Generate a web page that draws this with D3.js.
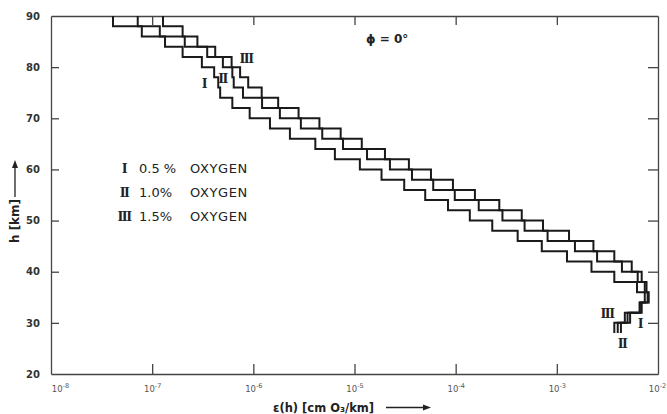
<!DOCTYPE html>
<html><head><meta charset="utf-8">
<script src="https://cdn.jsdelivr.net/npm/d3@7"></script>
<style>body{margin:0;background:#fff}</style>
</head><body><svg id="c" width="667" height="414"></svg>
<script>
// layer boundaries (km), 2-km layers from 90 down to 28
const layerBounds = [90,88,86,84,82,80,78,76,74,72,70,68,66,64,62,60,58,56,54,52,50,48,46,44,42,40,38,36,34,32,30,28];
// emission rate per layer, cm O3 / km
const epsI = [4.1e-8,7.9e-8,1.34e-7,2.0e-7,3.1e-7,4.1e-7,4.5e-7,4.7e-7,6.2e-7,9.2e-7,1.46e-6,2.3e-6,4.1e-6,6.4e-6,1.13e-5,1.85e-5,3.1e-5,5.0e-5,8.4e-5,1.38e-4,2.3e-4,4.1e-4,7.1e-4,1.26e-3,2.2e-3,3.7e-3,6.2e-3,7.4e-3,6.6e-3,5.3e-3,4.3e-3];
const epsII = [7.2e-8,1.19e-7,2.1e-7,3.5e-7,5.0e-7,6.2e-7,6.4e-7,7.9e-7,1.22e-6,1.83e-6,2.95e-6,4.8e-6,7.7e-6,1.33e-5,2.24e-5,3.7e-5,6.0e-5,9.8e-5,1.69e-4,2.9e-4,4.8e-4,8.1e-4,1.51e-3,2.5e-3,4.4e-3,6.3e-3,7.4e-3,7.9e-3,6.9e-3,5.0e-3,4.0e-3];
const epsIII = [1.28e-7,2.0e-7,2.8e-7,4.2e-7,6.1e-7,7.4e-7,8.9e-7,1.21e-6,1.76e-6,2.8e-6,4.5e-6,7.3e-6,1.18e-5,2.0e-5,3.45e-5,5.7e-5,9.4e-5,1.55e-4,2.7e-4,4.5e-4,7.3e-4,1.32e-3,2.3e-3,3.7e-3,5.5e-3,6.9e-3,7.7e-3,8.1e-3,6.6e-3,4.7e-3,3.7e-3];
const yTicks = [20,30,40,50,60,70,80,90];
const xTicks = [1e-8,1e-7,1e-6,1e-5,1e-4,1e-3,1e-2];
const curveNames = ["I","II","III"];
const legendPct = ["0.5 %","1.0%","1.5%"];
const legendWord = "OXYGEN";

const svg = d3.select("#c");
const x = d3.scaleLog().domain([1e-8,1e-2]).range([51,658]);
const y = d3.scaleLinear().domain([20,90]).range([374,16]);

const axisColor = "#444";
function styleAxis(g){
  g.select(".domain").attr("stroke",axisColor).attr("stroke-width",1.3);
  g.selectAll(".tick line").attr("stroke",axisColor).attr("stroke-width",1.3);
}
const axB = svg.append("g").attr("transform","translate(0,374)")
  .call(d3.axisBottom(x).tickValues(xTicks).tickSizeInner(-10).tickSizeOuter(0).tickPadding(9).tickFormat(()=>""));
styleAxis(axB);
axB.selectAll(".tick text").each(function(d){
  const t = d3.select(this).attr("font-family","DejaVu Sans").attr("font-size",8.5).attr("fill","#555")
    .attr("dy","1.1em");
  t.append("tspan").text("10");
  t.append("tspan").text(String(Math.round(Math.log10(d)))).attr("font-size",6.5).attr("dy",-4);
});
axB.selectAll(".tick").filter(d=>d===1e-8).select("text").attr("x",9);
axB.selectAll(".tick").filter(d=>d===1e-2).select("text").attr("x",-1);
axB.selectAll(".tick").filter(d=>d===1e-8||d===1e-2).select("line").remove();

const axT = svg.append("g").attr("transform","translate(0,16)")
  .call(d3.axisTop(x).tickValues(xTicks.slice(1,-1)).tickSizeInner(-9).tickSizeOuter(0).tickFormat(""));
styleAxis(axT);

const axL = svg.append("g").attr("transform","translate(51,0)")
  .call(d3.axisLeft(y).tickValues(yTicks).tickSizeInner(-8).tickSizeOuter(0).tickPadding(11));
styleAxis(axL);
axL.selectAll("text").attr("font-family","DejaVu Sans").attr("font-size",10).attr("font-weight","bold").attr("fill","#333");
axL.selectAll(".tick").filter(d=>d===20||d===90).select("line").remove();

const axR = svg.append("g").attr("transform","translate(658,0)")
  .call(d3.axisRight(y).tickValues(yTicks.slice(1,-1)).tickSizeInner(-10).tickSizeOuter(0).tickFormat(""));
styleAxis(axR);

// staircase curves
const line = d3.line().x(d=>x(d[0])).y(d=>y(d[1]));
[epsI,epsII,epsIII].forEach(vals=>{
  const pts = [];
  vals.forEach((v,i)=>{ pts.push([v,layerBounds[i]]); pts.push([v,layerBounds[i+1]]); });
  svg.append("path").attr("d",line(pts)).attr("fill","none")
    .attr("stroke","#1a1a1a").attr("stroke-width",2).attr("stroke-linejoin","miter");
});

// curve labels
const numFont = "Liberation Serif";
function numeral(t,cx,cy){
  svg.append("text").text(t).attr("x",cx).attr("y",cy).attr("text-anchor","middle")
    .attr("dominant-baseline","central").attr("font-family",numFont).attr("font-size",15)
    .attr("font-weight","bold").attr("letter-spacing",-1.5).attr("fill","#222");
}
numeral(curveNames[0],204,83);
numeral(curveNames[1],222.5,78);
numeral(curveNames[2],246,57.5);
numeral(curveNames[2],607,312.5);
numeral(curveNames[0],640,323);
numeral(curveNames[1],622,343);

// legend
const legY = [168,192,216];
curveNames.forEach((n,i)=>{
  numeral(n,124,legY[i]);
  svg.append("text").text(legendPct[i]).attr("x",139).attr("y",legY[i]+5)
    .attr("font-family","DejaVu Sans").attr("font-size",13).attr("fill","#222");
  svg.append("text").text(legendWord).attr("x",190).attr("y",legY[i]+5)
    .attr("font-family","DejaVu Sans").attr("font-size",13).attr("letter-spacing",0.6).attr("fill","#222");
});

// phi label
svg.append("text").text("\u03D5 = 0\u00B0").attr("x",366).attr("y",43)
  .attr("font-family","DejaVu Sans").attr("font-size",12).attr("font-weight","bold").attr("fill","#222");

// axis titles
svg.append("text").text("\u03B5(h) [cm O\u2083/km]").attr("x",273).attr("y",412)
  .attr("font-family","DejaVu Sans").attr("font-size",11.5).attr("font-weight","bold").attr("fill","#222");
svg.append("line").attr("x1",386).attr("x2",425).attr("y1",407.5).attr("y2",407.5)
  .attr("stroke","#222").attr("stroke-width",1.3);
svg.append("path").attr("d","M431,407.5 L423,404.5 L423,410.5 Z").attr("fill","#222");

svg.append("text").text("h [km]").attr("transform","translate(19,221) rotate(-90)")
  .attr("text-anchor","middle").attr("font-family","DejaVu Sans").attr("font-size",12)
  .attr("font-weight","bold").attr("fill","#222");
svg.append("line").attr("x1",15).attr("x2",15).attr("y1",197).attr("y2",166)
  .attr("stroke","#222").attr("stroke-width",1.3);
svg.append("path").attr("d","M15,160 L12,168 L18,168 Z").attr("fill","#222");
</script></body></html>
